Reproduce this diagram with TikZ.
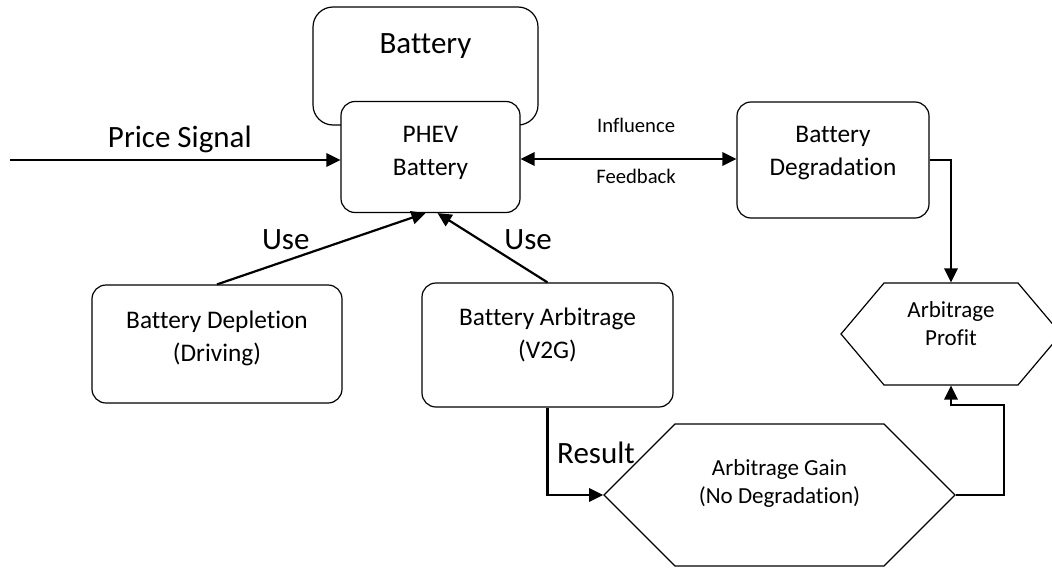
\documentclass[tikz,border=0pt]{standalone}
\usepackage{fontspec}
\setmainfont{Carlito}[Ligatures=NoCommon]
\usetikzlibrary{arrows.meta,shapes.symbols}
\newlength{\pxl}
\setlength{\pxl}{0.75pt}

\begin{document}
\begin{tikzpicture}[
        x=\pxl, y=-\pxl,
        every node/.style={inner sep=0pt, align=center},
        block/.style={draw, line width=1.2\pxl, rounded corners=14\pxl, fill=white,
            font=\fontsize{19}{24.75}\selectfont},
        hexa/.style={draw, line width=1.2\pxl, signal, signal to=west and east,
            font=\fontsize{17.25}{20.6}\selectfont},
        bigtext/.style={font=\fontsize{23.25}{28}\selectfont},
        smalltext/.style={font=\fontsize{15.5}{18}\selectfont},
        tip/.tip={Triangle[length=10.5pt, width=10pt]},
        link/.style={draw, line width=2.2\pxl, -tip}
    ]
    \useasboundingbox (0,0) rectangle (1052,571);

    % BATTERY
    \node[block, bigtext, rounded corners=20\pxl, minimum width=225\pxl,
        text height=46\pxl, text depth=72\pxl] (battery) at (425.5,66) {Battery};
    \node[block, minimum width=179\pxl, text height=74\pxl, text depth=37\pxl]
        (phev) at (430.5,157) {PHEV \\ Battery};
    \node[block, minimum width=192\pxl, text height=73\pxl, text depth=43\pxl]
        (deg) at (833,160) {Battery \\ Degradation};

    % USES
    \node[block, minimum width=250\pxl, text height=76\pxl, text depth=42\pxl]
        (dep) at (217,344) {Battery Depletion \\ (Driving)};
    \node[block, minimum width=251\pxl, text height=75\pxl, text depth=49\pxl]
        (arb) at (547.5,345) {Battery Arbitrage \\ (V2G)};

    % GAINS
    \node[hexa, signal pointer angle=90, minimum width=351\pxl,
        text height=79\pxl, text depth=63\pxl] (gain) at (779.5,495) {Arbitrage Gain \\ (No Degradation)};
    \node[hexa, signal pointer angle=99.7, minimum width=220\pxl,
        text height=62\pxl, text depth=40\pxl] (profit) at (951,334) {Arbitrage \\ Profit};

    % CONNECTORS
    \coordinate (src) at (10,160);
    \draw[link] (src) -- (src -| phev.west)
        node[bigtext, anchor=base, pos=0.514, yshift=13\pxl] (pricelbl) {Price Signal};
    \draw[link, tip-tip] ([yshift=-2\pxl]phev.east) -- ([yshift=-2\pxl]phev.east -| deg.west)
        node[smalltext, anchor=base, pos=0.535, yshift=26.5\pxl] (inflbl) {Influence}
        node[smalltext, anchor=base, pos=0.535, yshift=-24.5\pxl] (fbklbl) {Feedback};
    \draw[link] (deg.east) -| (profit.north);
    \draw[link] (dep.north) -- ([xshift=-5\pxl]phev.south)
        node[bigtext, anchor=base, pos=0.33, yshift=11\pxl] (use1) {Use};
    \draw[link] (arb.north) -- ([xshift=7\pxl]phev.south)
        node[bigtext, anchor=base, pos=0.176, yshift=20.5\pxl] (use2) {Use};
    \draw[link] (arb.south) |- (gain.west)
        node[bigtext, anchor=base, pos=0.5, xshift=48.5\pxl, yshift=32\pxl] (reslbl) {Result};
    \draw[link] (gain.east) -- ++(48,0) |- ([yshift=-19\pxl]profit.south) -- (profit.south);
\end{tikzpicture}
\end{document}
